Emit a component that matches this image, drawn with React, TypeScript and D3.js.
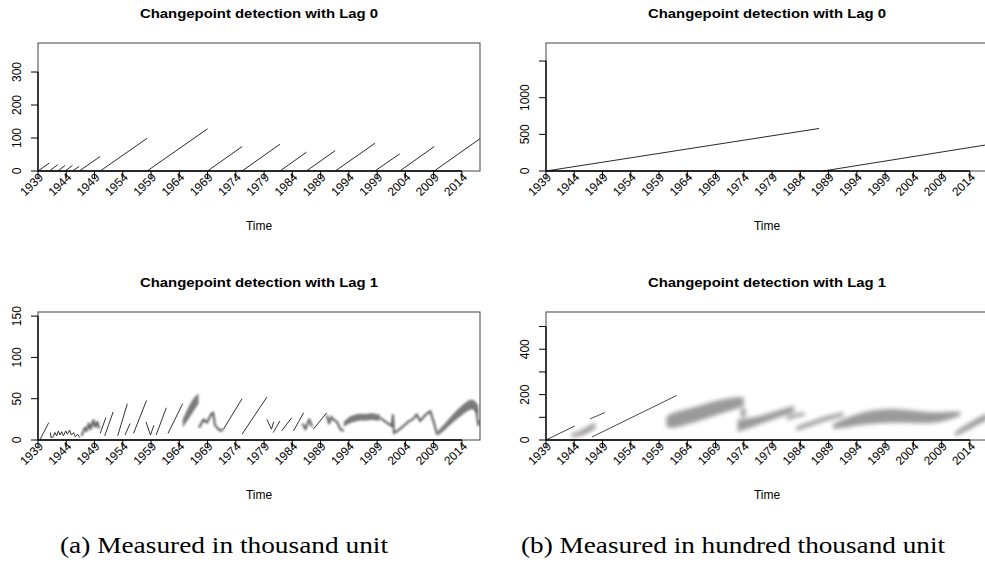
import React from 'react';
import * as d3 from 'd3';

// ---------- data ----------
const xTickYears = [1939, 1944, 1949, 1954, 1959, 1964, 1969, 1974, 1979, 1984, 1989, 1994, 1999, 2004, 2009, 2014];

// Lag 0, thousand unit: [start year, end year, run length at end]
const lag0Thousand: [number, number, number][] = [
  [1939.0, 1941.0, 24], [1941.0, 1942.5, 19], [1942.5, 1943.8, 17], [1943.8, 1945.1, 17],
  [1945.1, 1946.3, 14], [1946.3, 1950.0, 44], [1950.0, 1958.3, 99], [1958.3, 1969.0, 128],
  [1969.0, 1975.1, 74], [1975.1, 1981.8, 81], [1981.8, 1986.5, 57], [1986.5, 1991.6, 62],
  [1991.6, 1998.6, 84], [1998.6, 2003.0, 52], [2003.0, 2009.1, 74], [2009.1, 2017.2, 98],
];

// Lag 0, hundred thousand unit
const lag0Hundred: [number, number, number][] = [
  [1939.0, 1987.3, 580], [1988.0, 2017.2, 360],
];

// Lag 1, thousand unit: thin traces [year, run length]
const lag1ThousandThin: [number, number][][] = [
  [[1939.4, 1], [1940.9, 21]],
  [[1941.2, 9], [1941.3, 3], [1941.7, 4], [1942.0, 9], [1942.3, 5], [1942.6, 11], [1942.9, 6], [1943.2, 10], [1943.5, 5], [1943.9, 11], [1944.2, 7], [1944.6, 12], [1944.9, 6], [1945.3, 9], [1945.6, 4], [1946.0, 7], [1946.4, 3]],
  [[1950.0, 8], [1951.0, 27]],
  [[1950.8, 5], [1952.3, 34]],
  [[1953.1, 5], [1954.8, 44]],
  [[1954.4, 6], [1955.3, 20]],
  [[1955.9, 8], [1958.2, 48]],
  [[1958.1, 22], [1958.9, 6], [1959.5, 18]],
  [[1959.9, 6], [1961.7, 39]],
  [[1962.0, 8], [1964.6, 44]],
  [[1971.8, 13], [1975.1, 50]],
  [[1975.1, 7], [1979.5, 52]],
  [[1979.5, 25], [1980.3, 13], [1980.7, 22]],
  [[1980.6, 9], [1981.8, 23]],
  [[1982.1, 11], [1983.9, 27]],
  [[1984.2, 11], [1986.0, 33]],
  [[1987.7, 13], [1990.1, 33]],
];

// Lag 1, thousand unit: medium grey traces
const lag1ThousandMid: [number, number][][] = [
  [[1946.7, 5], [1947.3, 15], [1947.6, 11], [1948.0, 20], [1948.3, 13], [1948.8, 24], [1949.1, 16], [1949.5, 22], [1949.8, 14]],
  [[1967.5, 15], [1968.3, 25], [1968.9, 21], [1969.7, 32], [1970.0, 33], [1970.3, 18], [1970.8, 14], [1971.3, 11], [1971.8, 13]],
  [[1985.8, 20], [1986.3, 13], [1987.0, 25], [1987.5, 16]],
  [[1990.1, 30], [1990.5, 20], [1990.9, 28], [1991.4, 24], [1991.9, 22], [1992.5, 13], [1993.1, 11]],
  [[1999.5, 27], [2000.5, 22], [2001.6, 17], [2001.8, 30], [2002.0, 7]],
  [[2002.2, 9], [2003.5, 16], [2004.5, 22], [2005.3, 25], [2006.0, 31], [2006.6, 23], [2007.5, 30], [2008.4, 35], [2009.0, 22], [2009.6, 7]],
  [[2016.5, 38], [2016.9, 18], [2017.1, 24]],
];

// Lag 1, thousand unit: grey bands [year, low, high]
const lag1ThousandBands: [number, number, number][][] = [
  [[1964.6, 15, 25], [1965.6, 25, 40], [1966.6, 36, 52], [1967.4, 44, 56]],
  [[1993.1, 16, 22], [1994.0, 20, 28], [1995.0, 22, 31], [1996.0, 24, 32], [1997.0, 23, 31], [1998.0, 25, 33], [1999.0, 23, 31], [1999.5, 24, 31]],
  [[2009.6, 5, 10], [2011.0, 12, 20], [2012.5, 22, 32], [2014.0, 30, 42], [2015.5, 38, 50], [2016.3, 36, 48], [2016.9, 30, 42]],
];

// Lag 1, hundred thousand unit: thin traces
const lag1HundredThin: [number, number][][] = [
  [[1939.0, 0], [1944.1, 62]],
  [[1946.8, 93], [1949.4, 121]],
  [[1947.1, 13], [1962.1, 196]],
];

// Lag 1, hundred thousand unit: grey bands [year, low, high]
const lag1HundredBands: [number, number, number][][] = [
  [[1943.5, 10, 28], [1944.5, 15, 35], [1945.5, 22, 45], [1946.5, 32, 62], [1947.7, 50, 78]],
  [[1960.3, 60, 100], [1961.0, 50, 118], [1963.0, 62, 130], [1965.0, 75, 142], [1967.0, 92, 158], [1969.0, 110, 172], [1971.0, 125, 182], [1973.0, 140, 190], [1974.0, 150, 188]],
  [[1973.5, 100, 140], [1974.3, 100, 140]],
  [[1972.9, 35, 90], [1974.0, 45, 92], [1976.0, 62, 100], [1978.0, 80, 115], [1980.0, 98, 130], [1982.0, 115, 145], [1982.9, 122, 150]],
  [[1981.6, 88, 105], [1983.0, 98, 115], [1984.8, 108, 122]],
  [[1983.3, 40, 58], [1985.0, 55, 75], [1987.0, 72, 92], [1989.0, 88, 108], [1991.6, 105, 122]],
  [[1989.8, 48, 70], [1991.0, 52, 85], [1993.0, 60, 105], [1995.0, 68, 122], [1997.0, 72, 132], [1999.0, 75, 137], [2001.0, 76, 136], [2003.0, 76, 132], [2005.0, 74, 126], [2007.0, 74, 122], [2009.0, 80, 122], [2011.0, 95, 125], [2012.3, 108, 125]],
  [[2011.4, 15, 35], [2013.0, 35, 62], [2015.0, 62, 92], [2016.7, 85, 112], [2017.2, 90, 118]],
];

const xDomain: [number, number] = [1939, 2017.2];

// ---------- layout ----------
const PW = 442;
const PH = 128;
const FONT = "'Liberation Sans', Arial, Helvetica, sans-serif";
const SERIF = "'Liberation Serif', 'DejaVu Serif', serif";

type Scales = { x: d3.ScaleLinear<number, number>; y: d3.ScaleLinear<number, number> };

function Panel(props: {
  id: string; left: number; top: number; yMax: number; yTicks: number[]; yLabels: number[];
  title: string; children: (s: Scales) => React.ReactNode;
}) {
  const { id, left, top, yMax, yTicks, yLabels, title, children } = props;
  const bottom = top + PH;
  const x = d3.scaleLinear().domain(xDomain).range([left, left + PW]);
  const y = d3.scaleLinear().domain([0, yMax]).range([bottom, top]);
  const cx = left + PW / 2;
  return (
    <g>
      <text x={cx} y={top - 25} textAnchor="middle" fontFamily={FONT} fontWeight="bold" fontSize={13} textLength={238} lengthAdjust="spacingAndGlyphs">{title}</text>
      <clipPath id={id}><rect x={left} y={top} width={PW} height={PH} /></clipPath>
      <g clipPath={`url(#${id})`}>{children({ x, y })}</g>
      <rect x={left} y={top} width={PW} height={PH} fill="none" stroke="#444" strokeWidth={1} />
      {/* y axis */}
      <line x1={left} x2={left} y1={y(yTicks[0])} y2={y(yTicks[yTicks.length - 1])} stroke="#000" strokeWidth={1.3} />
      {yTicks.map((t) => (
        <line key={t} x1={left - 7} x2={left} y1={y(t)} y2={y(t)} stroke="#000" strokeWidth={1} />
      ))}
      {yLabels.map((t) => (
        <text key={t} transform={`translate(${left - 17},${y(t)}) rotate(-90)`} textAnchor="middle" fontFamily={FONT} fontSize={12}>{t}</text>
      ))}
      {/* x axis */}
      <line x1={x(xTickYears[0])} x2={x(xTickYears[xTickYears.length - 1])} y1={bottom} y2={bottom} stroke="#000" strokeWidth={1.3} />
      {xTickYears.map((t) => (
        <line key={t} x1={x(t)} x2={x(t)} y1={bottom} y2={bottom + 7} stroke="#000" strokeWidth={1} />
      ))}
      {xTickYears.map((t) => (
        <text key={t} transform={`translate(${x(t) + 3},${bottom + 4}) rotate(-45)`} textAnchor="end" dy="0.35em" fontFamily={FONT} fontSize={12}>{t}</text>
      ))}
      <text x={cx} y={bottom + 59} textAnchor="middle" fontFamily={FONT} fontSize={12}>Time</text>
    </g>
  );
}

function Lag0({ s, segs }: { s: Scales; segs: [number, number, number][] }) {
  return (
    <g>
      {segs.map(([a, b, v], i) => (
        <line key={i} x1={s.x(a)} y1={s.y(0)} x2={s.x(b)} y2={s.y(v)} stroke="#111" strokeWidth={0.9} />
      ))}
    </g>
  );
}

function Bands({ s, bands, fill, filter }: { s: Scales; bands: [number, number, number][][]; fill: string; filter: string }) {
  const area = d3.area<[number, number, number]>()
    .x((d) => s.x(d[0]))
    .y0((d) => s.y(d[1]))
    .y1((d) => s.y(d[2]))
    .curve(d3.curveBasis);
  return (
    <g filter={`url(#${filter})`}>
      {bands.map((b, i) => <path key={i} d={area(b) || ''} fill={fill} />)}
    </g>
  );
}

function Traces({ s, traces, stroke, width, filter }: { s: Scales; traces: [number, number][][]; stroke: string; width: number; filter?: string }) {
  const line = d3.line<[number, number]>().x((d) => s.x(d[0])).y((d) => s.y(d[1]));
  return (
    <g filter={filter ? `url(#${filter})` : undefined}>
      {traces.map((t, i) => <path key={i} d={line(t) || ''} fill="none" stroke={stroke} strokeWidth={width} strokeLinejoin="round" />)}
    </g>
  );
}

export default function App() {
  return (
    <svg width={985} height={562} style={{ position: 'absolute', left: 0, top: 0, background: '#fff' }}>
      <defs>
        <filter id="blurS" x="-20%" y="-50%" width="140%" height="200%"><feGaussianBlur stdDeviation={0.8} /></filter>
        <filter id="blurM" x="-20%" y="-50%" width="140%" height="200%"><feGaussianBlur stdDeviation={1.2} /></filter>
        <filter id="blurL" x="-20%" y="-50%" width="140%" height="200%"><feGaussianBlur stdDeviation={2} /></filter>
      </defs>
      <rect x={0} y={0} width={985} height={562} fill="#fff" />

      <Panel id="c1" left={38} top={43} yMax={388} yTicks={[0, 100, 200, 300]} yLabels={[0, 100, 200, 300]} title="Changepoint detection with Lag 0">
        {(s) => <Lag0 s={s} segs={lag0Thousand} />}
      </Panel>

      <Panel id="c2" left={546} top={43} yMax={1746} yTicks={[0, 500, 1000, 1500]} yLabels={[0, 500, 1000]} title="Changepoint detection with Lag 0">
        {(s) => <Lag0 s={s} segs={lag0Hundred} />}
      </Panel>

      <Panel id="c3" left={38} top={312} yMax={155} yTicks={[0, 50, 100, 150]} yLabels={[0, 50, 100, 150]} title="Changepoint detection with Lag 1">
        {(s) => (
          <g>
            <Bands s={s} bands={lag1ThousandBands} fill="#7a7a7a" filter="blurM" />
            <Traces s={s} traces={lag1ThousandMid} stroke="#666" width={2.2} filter="blurS" />
            <Traces s={s} traces={lag1ThousandThin} stroke="#333" width={1} />
          </g>
        )}
      </Panel>

      <Panel id="c4" left={546} top={312} yMax={564} yTicks={[0, 100, 200, 300, 400, 500]} yLabels={[0, 200, 400]} title="Changepoint detection with Lag 1">
        {(s) => (
          <g>
            <Bands s={s} bands={lag1HundredBands} fill="#9a9a9a" filter="blurL" />
            <Traces s={s} traces={lag1HundredThin} stroke="#333" width={0.9} />
          </g>
        )}
      </Panel>

      <text x={224} y={553} textAnchor="middle" fontFamily={SERIF} fontSize={23} textLength={328} lengthAdjust="spacingAndGlyphs">(a) Measured in thousand unit</text>
      <text x={733} y={553} textAnchor="middle" fontFamily={SERIF} fontSize={23} textLength={424} lengthAdjust="spacingAndGlyphs">(b) Measured in hundred thousand unit</text>
    </svg>
  );
}
